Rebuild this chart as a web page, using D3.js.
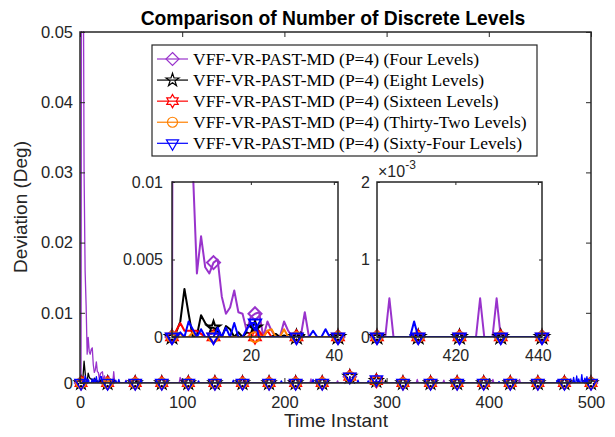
<!DOCTYPE html>
<meta charset="utf-8">
<style>
  body { margin: 0; background: #fff; }
  text { font-family: "Liberation Sans", Arial, sans-serif; }
  .tick text { font-size: 16.5px; fill: #262626; }
  .tick line { stroke: #262626; stroke-width: 1; }
  .inset .tick text { font-size: 16px; }
  .legend text { font-family: "Liberation Serif", "Times New Roman", serif; font-size: 17.5px; fill: #000; }
</style>
<body>
<script src="https://cdn.jsdelivr.net/npm/d3@7"></script>
<script>
// ---- data ----
// every instant not listed below sits at zero deviation
var seriesNames = ["Four Levels", "Eight Levels", "Sixteen Levels", "Thirty-Two Levels", "Sixty-Four Levels"];
var seriesColors = ["#9933cc", "#000000", "#ff0000", "#ff8000", "#0000ff"];
var seriesMarkers = ["diamond", "pentagram", "hexagram", "circle", "triangle"];

var fourLevels = [[2,0.12],[3,0.07],[4,0.03],[5,0.016],[6,0.011],[7,0.0041],[8,0.0065],[9,0.0045],[10,0.0041],
  [11,0.0048],[12,0.005],[13,0.0026],[14,0.0015],[15,0.0019],[16,0.003],[17,0.0016],[18,0.0015],[19,0.0004],
  [20,0.0013],[21,0.0015],[22,0.0016],[24,0.001],[25,0.0004],[28,0.001],[29,0.0004],[33,0.0016],[45,0.0004],
  [98,0.0008],[99,0.0003],[160,0.0004],[205,0.0004],[226,0.0006],[252,0.0003],[264,0.0009],[290,0.0003],
  [330,0.0005],[356,0.0004],[404,0.0005],[426,0.0005],[430,0.0005],[447,0.0004],[452,0.0003],[480,0.0006],[492,0.0004]];
var eightLevels = [[2,0.0003],[3,0.001],[4,0.0031],[5,0.0015],[7,0.0001],[8,0.0014],[9,0.0009],[10,0.0006],
  [11,0.0006],[12,0.0004],[14,0.0007],[15,0.0005],[17,0.0003],[19,0.0003],[20,0.0002],[21,0.0006],[26,0.0002],
  [28,0.0001],[32,0.0003],[55,0.0004],[208,0.0003],[264,0.0009],[290,0.0003],[299,0.0004],[365,0.0002],[483,0.0003]];
var sixteenLevels = [[2,0.0004],[3,0.0009],[4,0.0004],[5,0.0004],[6,0.0004],[7,0.0004],[8,0.0002],[20,0.0001],
  [22,0.0004],[24,0.0004],[264,0.0009],[290,0.0003]];
var thirtyTwoLevels = [[2,0.0003],[3,0.0002],[6,0.0003],[24,0.0004],[25,0.0005],[28,0.0005],[264,0.0009],[290,0.0003]];
var sixtyFourLevels = [[3,0.0003],[5,0.001],[6,0.0005],[8,0.0005],[12,0.0006],[14,0.0006],[16,0.0009],[19,0.0005],
  [20,0.0009],[21,0.0009],[35,0.0004],[38,0.0005],[45,0.0003],[60,0.0003],[75,0.0003],[116,0.0003],[150,0.0004],
  [197,0.0003],[228,0.0005],[264,0.0009],[272,0.0004],[282,0.0003],[290,0.0005],[375,0.0004],[410,0.0002],
  [467,0.0004],[483,0.0008],[486,0.001],[488,0.0006],[491,0.0012],[494,0.0007],[496,0.0009]];

var mainMarkers = [1,27,54,80,106,132,159,185,211,237,264,290,316,343,369,395,421,448,474,500];
var zoomAMarkers = [1,11,21,31,41];
var zoomBMarkers = [401,411,421,431,441];

var mainXTicks = [0,100,200,300,400,500];
var mainYTicks = [0,0.01,0.02,0.03,0.04,0.05];
var zoomAXTicks = [20,40], zoomAYTicks = [0,0.005,0.01];
var zoomBXTicks = [420,440], zoomBYTicks = [0,0.001,0.002];

var N = 500;
function expand(sparse) {
  var arr = [];
  for (var t = 1; t <= N; t++) arr.push(0);
  sparse.forEach(function(p) { arr[p[0]-1] = p[1]; });
  return arr;
}
var allSeries = [fourLevels, eightLevels, sixteenLevels, thirtyTwoLevels, sixtyFourLevels].map(expand);

// ---- marker shapes ----
function markerPath(type) {
  var pts = [], i, a;
  if (type == "diamond") return "M0,-6.5L6.5,0L0,6.5L-6.5,0Z";
  if (type == "circle") return "M5,0A5,5 0 1 1 -5,0A5,5 0 1 1 5,0Z";
  if (type == "triangle") {
    var r = 7;
    return "M0," + r + "L" + (-0.866*r) + "," + (-0.5*r) + "L" + (0.866*r) + "," + (-0.5*r) + "Z";
  }
  if (type == "pentagram") {
    for (i = 0; i < 10; i++) {
      a = -Math.PI/2 + i*Math.PI/5;
      var rr = i % 2 ? 2.6 : 6.8;
      pts.push([rr*Math.cos(a), rr*Math.sin(a)]);
    }
  }
  if (type == "hexagram") {
    for (i = 0; i < 12; i++) {
      a = -Math.PI/2 + i*Math.PI/6;
      var rh = i % 2 ? 3.8 : 6.6;
      pts.push([rh*Math.cos(a), rh*Math.sin(a)]);
    }
  }
  return "M" + pts.map(function(p) { return p[0].toFixed(2) + "," + p[1].toFixed(2); }).join("L") + "Z";
}

var svg = d3.select("body").append("svg").attr("width", 615).attr("height", 437);
svg.append("rect").attr("width", 615).attr("height", 437).attr("fill", "#fff");

function drawPanel(cfg) {
  var g = svg.append("g").attr("class", cfg.cls);
  var x = d3.scaleLinear().domain(cfg.xDomain).range([cfg.left, cfg.right]);
  var y = d3.scaleLinear().domain(cfg.yDomain).range([cfg.bottom, cfg.top]);

  g.append("rect").attr("x", cfg.left).attr("y", cfg.top)
    .attr("width", cfg.right - cfg.left).attr("height", cfg.bottom - cfg.top).attr("fill", "#fff");

  var clipId = "clip" + cfg.id;
  g.append("clipPath").attr("id", clipId).append("rect")
    .attr("x", cfg.left).attr("y", cfg.top - 1)
    .attr("width", cfg.right - cfg.left).attr("height", cfg.bottom - cfg.top + 1);

  var t0 = cfg.xDomain[0], t1 = cfg.xDomain[1];
  var plot = g.append("g");
  var line = d3.line().x(function(d) { return x(d[0]); }).y(function(d) { return y(d[1]); });

  allSeries.forEach(function(vals, k) {
    var pts = [];
    for (var t = Math.max(1, t0); t <= Math.min(N, t1); t++) pts.push([t, vals[t-1]]);
    plot.append("path").datum(pts).attr("d", line)
      .attr("clip-path", "url(#" + clipId + ")")
      .attr("fill", "none").attr("stroke", seriesColors[k])
      .attr("stroke-width", cfg.lw).attr("stroke-linejoin", "round");
    plot.selectAll(null).data(cfg.markers).enter().append("path")
      .attr("d", markerPath(seriesMarkers[k]))
      .attr("transform", function(t) { return "translate(" + x(t) + "," + y(vals[t-1]) + ")"; })
      .attr("fill", "none").attr("stroke", seriesColors[k]).attr("stroke-width", cfg.mlw);
  });

  // axes, ticks pointing inward on all four sides
  var ts = cfg.tick;
  g.append("g").attr("transform", "translate(0," + cfg.bottom + ")")
    .call(d3.axisBottom(x).tickValues(cfg.xTicks).tickSizeInner(-ts).tickSizeOuter(0).tickPadding(cfg.xPad))
    .call(function(a) { a.select(".domain").remove(); });
  g.append("g").attr("transform", "translate(0," + cfg.top + ")")
    .call(d3.axisTop(x).tickValues(cfg.xTicks).tickSizeInner(-ts).tickSizeOuter(0).tickFormat(""))
    .call(function(a) { a.select(".domain").remove(); });
  g.append("g").attr("transform", "translate(" + cfg.left + ",0)")
    .call(d3.axisLeft(y).tickValues(cfg.yTicks).tickSizeInner(-ts).tickSizeOuter(0)
      .tickPadding(cfg.yPad).tickFormat(cfg.yFormat))
    .call(function(a) { a.select(".domain").remove(); });
  g.append("g").attr("transform", "translate(" + cfg.right + ",0)")
    .call(d3.axisRight(y).tickValues(cfg.yTicks).tickSizeInner(-ts).tickSizeOuter(0).tickFormat(""))
    .call(function(a) { a.select(".domain").remove(); });
  g.selectAll(".tick text").attr("font-family", null).attr("font-size", null);

  g.append("rect").attr("x", cfg.left).attr("y", cfg.top)
    .attr("width", cfg.right - cfg.left).attr("height", cfg.bottom - cfg.top)
    .attr("fill", "none").attr("stroke", "#262626").attr("stroke-width", 1.5);
  return g;
}

drawPanel({ id: "main", cls: "main", left: 80, right: 591, top: 32, bottom: 383, xDomain: [0, 500], yDomain: [0, 0.05],
  xTicks: mainXTicks, yTicks: mainYTicks, markers: mainMarkers, lw: 1.3, mlw: 1.5, tick: 5,
  xPad: 13, yPad: 7, yFormat: function(d) { return d === 0 ? "0" : d3.format(".2f")(d); } });

drawPanel({ id: "a", cls: "inset", left: 172, right: 338, top: 182, bottom: 337, xDomain: [1, 41], yDomain: [0, 0.01],
  xTicks: zoomAXTicks, yTicks: zoomAYTicks, markers: zoomAMarkers, lw: 2, mlw: 2, tick: 3,
  xPad: 13, yPad: 9, yFormat: function(d) { return d === 0 ? "0" : String(d); } });

var gb = drawPanel({ id: "b", cls: "inset", left: 377, right: 542, top: 182, bottom: 337, xDomain: [401, 441], yDomain: [0, 0.002],
  xTicks: zoomBXTicks, yTicks: zoomBYTicks, markers: zoomBMarkers, lw: 2, mlw: 2, tick: 3,
  xPad: 13, yPad: 7, yFormat: function(d) { return String(Math.round(d * 1000)); } });

var expo = gb.append("text").attr("x", 378).attr("y", 177).attr("font-size", "16px").attr("fill", "#262626");
expo.append("tspan").text("\u00d710");
expo.append("tspan").attr("font-size", "12px").attr("dy", -8).text("-3");

// title and axis labels
svg.append("text").attr("x", 333).attr("y", 25).attr("text-anchor", "middle")
  .attr("font-size", "19.3px").attr("font-weight", "bold").text("Comparison of Number of Discrete Levels");
svg.append("text").attr("x", 336).attr("y", 427).attr("text-anchor", "middle")
  .attr("font-size", "19px").attr("fill", "#262626").text("Time Instant");
svg.append("text").attr("transform", "translate(27,207) rotate(-90)").attr("text-anchor", "middle")
  .attr("font-size", "19px").attr("fill", "#262626").text("Deviation (Deg)");

// legend
var lg = svg.append("g").attr("class", "legend");
lg.append("rect").attr("x", 152).attr("y", 45).attr("width", 385).attr("height", 111)
  .attr("fill", "#fff").attr("stroke", "#262626").attr("stroke-width", 1.2);
var rowY = d3.scalePoint().domain(seriesNames).range([59, 143.3]);
seriesNames.forEach(function(name, k) {
  var yy = rowY(name);
  lg.append("line").attr("x1", 157).attr("x2", 188).attr("y1", yy).attr("y2", yy)
    .attr("stroke", seriesColors[k]).attr("stroke-width", 1.2);
  lg.append("path").attr("d", markerPath(seriesMarkers[k])).attr("transform", "translate(172.5," + yy + ")")
    .attr("fill", "none").attr("stroke", seriesColors[k]).attr("stroke-width", 1.2);
  lg.append("text").attr("x", 193).attr("y", yy + 6).text("VFF-VR-PAST-MD (P=4) (" + name + ")");
});
</script>
</body>
